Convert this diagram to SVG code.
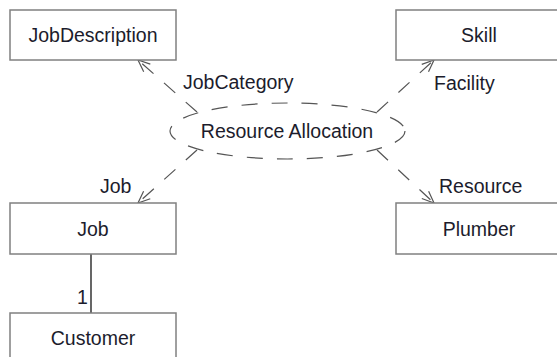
<svg xmlns="http://www.w3.org/2000/svg" width="557" height="357" viewBox="0 0 557 357">
<style>
.box{fill:#ffffff;stroke:#808080;stroke-width:1.5}
.t{font-family:"Liberation Sans",Arial,sans-serif;font-size:19.5px;fill:#1c1c2c}
.c{text-anchor:middle}
.dep{fill:none;stroke:#555555;stroke-width:1.2;stroke-dasharray:15,14;marker-end:url(#open)}
.uc{fill:none;stroke:#555555;stroke-width:1.2;stroke-dasharray:16,14}
.assoc{stroke:#000000;stroke-width:1.2}
</style>
<defs>
<marker id="open" markerUnits="userSpaceOnUse" markerWidth="16" markerHeight="14" refX="13" refY="6" orient="auto" viewBox="0 0 16 14">
<path d="M1,1 L13,6 L1,11" fill="none" stroke="#555555" stroke-width="1.2"/>
</marker>
</defs>
<rect width="557" height="357" fill="#ffffff"/>
<g id="connectors">
<line class="dep" x1="197" y1="112" x2="138" y2="60"/>
<line class="dep" x1="377" y1="112" x2="434" y2="60"/>
<line class="dep" x1="197" y1="150" x2="138" y2="203"/>
<line class="dep" x1="377" y1="150" x2="434" y2="203"/>
<line class="assoc" x1="91" y1="254" x2="91" y2="313"/>
<text class="t" x="183" y="89">JobCategory</text>
<text class="t" x="434" y="90">Facility</text>
<text class="t" x="100" y="193">Job</text>
<text class="t" x="439" y="193">Resource</text>
<text class="t" x="77" y="304">1</text>
</g>
<g id="resource-allocation">
<ellipse class="uc" cx="287.5" cy="131" rx="117.5" ry="28"/>
<text class="t c" x="287" y="138">Resource Allocation</text>
</g>
<g id="jobdescription">
<rect class="box" x="10" y="10" width="166" height="50"/>
<text class="t c" x="93" y="42">JobDescription</text>
</g>
<g id="skill">
<rect class="box" x="396" y="10" width="166" height="50"/>
<text class="t c" x="479" y="42">Skill</text>
</g>
<g id="job">
<rect class="box" x="10" y="203" width="166" height="51"/>
<text class="t c" x="93" y="236">Job</text>
</g>
<g id="plumber">
<rect class="box" x="396" y="203" width="166" height="51"/>
<text class="t c" x="479" y="236">Plumber</text>
</g>
<g id="customer">
<rect class="box" x="10" y="313" width="166" height="50"/>
<text class="t c" x="93" y="345">Customer</text>
</g>
</svg>
